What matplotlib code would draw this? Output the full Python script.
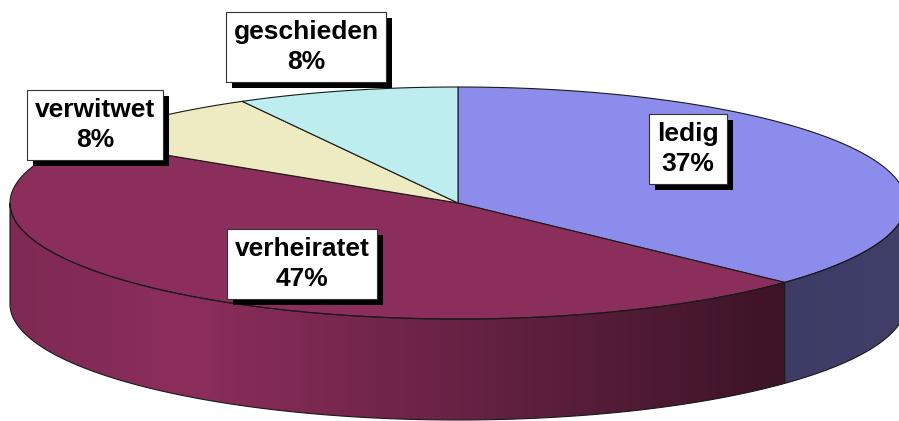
import numpy as np
import matplotlib

matplotlib.use("Agg")
import matplotlib.pyplot as plt
from matplotlib.patches import Polygon, Rectangle

# data
labels = ["ledig", "verheiratet", "verwitwet", "geschieden"]
values = [37, 47, 8, 8]
top_colors = ["#8C8CEC", "#8C2E5C", "#EEEBC2", "#BDEDEE"]

# layout (pixel space, y down)
W, H = 899, 421
cx, cy, a, b, depth = 458, 203, 448, 116, 101
label_pos = [(688, 149), (302, 264), (95, 125), (306, 47)]
shadow = 6


def pt(t, dz=0.0):
    t = np.radians(t)
    return cx + a * np.cos(t), cy - b * np.sin(t) + dz


def shade(u):
    # side brightness as a function of horizontal position (-1..1)
    return np.interp(u, [-1.0, -0.6, 0.72, 1.0], [0.9, 1.0, 0.43, 0.45])


fig = plt.figure(figsize=(W / 100, H / 100), dpi=100)
ax = fig.add_axes([0, 0, 1, 1])
ax.set_xlim(0, W)
ax.set_ylim(H, 0)
ax.axis("off")

total = float(sum(values))
cum = np.concatenate([[0], np.cumsum(values)]) / total
# clockwise from 12 o'clock
spans = [(90 - 360 * cum[i + 1], 90 - 360 * cum[i]) for i in range(len(values))]

# side walls (front half only)
xs = np.arange(W)
for (lo, hi), col in zip(spans, top_colors):
    for k in (-1, 0, 1):
        s0, s1 = max(lo, 180 + 360 * k), min(hi, 360 + 360 * k)
        if s1 <= s0:
            continue
        t = np.linspace(s0, s1, 200)
        tx, ty = pt(t)
        bx, by = pt(t[::-1], depth)
        poly = Polygon(np.column_stack([np.r_[tx, bx], np.r_[ty, by]]),
                       closed=True, fc="none", ec="#1a1a1a", lw=0.8, zorder=3)
        ax.add_patch(poly)
        rgb = np.array(matplotlib.colors.to_rgb(col))
        grad = shade((xs - cx) / a)[None, :, None] * rgb[None, None, :]
        im = ax.imshow(grad, extent=(0, W, H, 0), aspect="auto",
                       interpolation="bilinear", zorder=1)
        im.set_clip_path(poly)

# top face wedges
for (lo, hi), col in zip(spans, top_colors):
    t = np.linspace(lo, hi, 200)
    tx, ty = pt(t)
    ax.add_patch(Polygon(np.column_stack([np.r_[cx, tx], np.r_[cy, ty]]),
                         closed=True, fc=col, ec="#1a1a1a", lw=0.8, zorder=2))

# labels in white boxes
texts = []
for name, v, (x, y) in zip(labels, values, label_pos):
    txt = f"{name}\n{100 * v / total:.0f}%"
    texts.append(ax.text(x, y, txt, ha="center", va="center", fontsize=19,
                         fontweight="bold", family="Liberation Sans",
                         linespacing=1.3, color="black", zorder=6,
                         bbox=dict(boxstyle="square,pad=0.3", fc="white",
                                   ec="#333333", lw=0.8)))

# drop shadows behind the label boxes
fig.canvas.draw()
r = fig.canvas.get_renderer()
inv = ax.transData.inverted()
for t in texts:
    bb = t.get_bbox_patch().get_window_extent(r)
    (x0, y0), (x1, y1) = inv.transform([[bb.x0, bb.y0], [bb.x1, bb.y1]])
    ax.add_patch(Rectangle((min(x0, x1) + shadow, min(y0, y1) + shadow),
                           abs(x1 - x0), abs(y1 - y0), fc="black", ec="none",
                           zorder=5))

fig.savefig("out.png", dpi=100)
